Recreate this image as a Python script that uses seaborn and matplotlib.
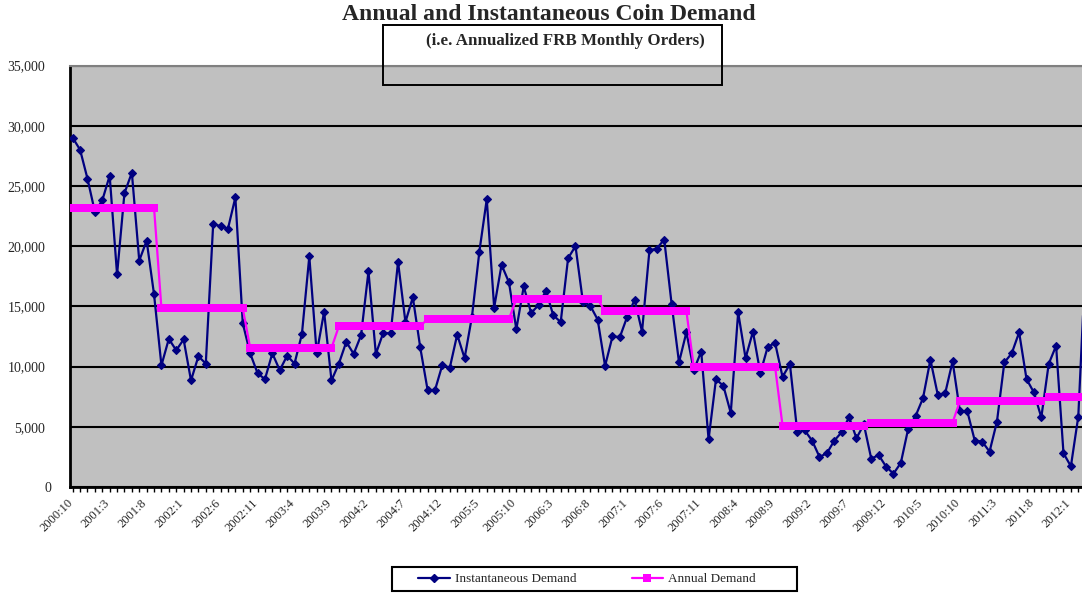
import numpy as np
import pandas as pd
import matplotlib
matplotlib.use("Agg")
import matplotlib.pyplot as plt
from matplotlib.patches import Rectangle
from matplotlib.lines import Line2D
from matplotlib.transforms import ScaledTranslation
from matplotlib.ticker import FuncFormatter, FixedLocator, MultipleLocator
import seaborn as sns

# Monthly FRB coin orders, annualized (Oct 2000 onward)
instantaneous = [
    29000, 28000, 25600, 22850, 23800, 25850, 17650, 24400, 26100, 18800, 20450, 16000,
    10100, 12300, 11350, 12250, 8850, 10850, 10250, 21850, 21650, 21450, 24050, 13600,
    11100, 9450, 8950, 11100, 9700, 10900, 10250, 12700, 19150, 11100, 14550, 8850,
    10250, 12050, 11050, 12600, 17900, 11050, 12800, 12750, 18700, 13700, 15750, 11600,
    8050, 8050, 10150, 9900, 12650, 10700, 14150, 19550, 23900, 14900, 18450, 17000,
    13100, 16650, 14450, 15100, 16300, 14250, 13700, 19000, 20000, 15400, 15050, 13900,
    10050, 12500, 12450, 14150, 15550, 12900, 19650, 19800, 20550, 15200, 10350, 12850,
    9700, 11250, 3950, 8950, 8400, 6150, 14500, 10700, 12900, 9450, 11650, 11950,
    9150, 10200, 4550, 4700, 3850, 2500, 2800, 3850, 4550, 5800, 4050, 5200,
    2350, 2650, 1700, 1100, 2000, 4850, 5900, 7380, 10570, 7650, 7790, 10430,
    6270, 6270, 3850, 3770, 2940, 5430, 10340, 11100, 12840, 8960, 7850, 5780,
    10220, 11730, 2800, 1720, 5850, 19000,
]

# Fiscal-year (Oct-Sep) annual demand levels
annual_levels = [23200, 14850, 11550, 13350, 13950, 15600, 14600, 9950, 5100, 5350, 7150, 7450]
months_per_level = 12

tick_labels = [
    "2000:10", "2001:3", "2001:8", "2002:1", "2002:6", "2002:11", "2003:4",
    "2003:9", "2004:2", "2004:7", "2004:12", "2005:5", "2005:10", "2006:3",
    "2006:8", "2007:1", "2007:6", "2007:11", "2008:4", "2008:9", "2009:2",
    "2009:7", "2009:12", "2010:5", "2010:10", "2011:3", "2011:8", "2012:1",
]
tick_step = 5

title = "Annual and Instantaneous Coin Demand"
subtitle = "(i.e. Annualized FRB Monthly Orders)"

sns.set_style("white")
plt.rcParams["font.family"] = ["Liberation Serif", "DejaVu Serif"]

n = len(instantaneous)
month = np.arange(n)
annual = np.repeat(annual_levels, months_per_level)[:n]
df = pd.DataFrame({"month": month,
                   "Instantaneous Demand": instantaneous,
                   "Annual Demand": annual})

W, H = 1082, 596
fig = plt.figure(figsize=(W / 100, H / 100), dpi=100)

# Plot area runs past the right edge of the canvas
x_lo, x_hi = -0.35, 139.0
px_per_month = 7.394
left_px = 72.7 + x_lo * px_per_month
width_px = (x_hi - x_lo) * px_per_month
top_px, bottom_px = 65.5, 487.0
ax = fig.add_axes([left_px / W, (H - bottom_px) / H, width_px / W, (bottom_px - top_px) / H])
ax.set_facecolor("#C0C0C0")

navy = "#000080"
magenta = "#FF00FF"

sns.lineplot(data=df, x="month", y="Instantaneous Demand", ax=ax, color=navy,
             lw=1.6, marker="D", markersize=4.3, markeredgecolor=navy,
             markeredgewidth=0.8, legend=False, zorder=3)
sns.lineplot(data=df, x="month", y="Annual Demand", ax=ax, color=magenta,
             lw=1.6, marker="s", markersize=6.3, markeredgewidth=0,
             legend=False, zorder=4)

ax.set_xlim(x_lo, x_hi)
ax.set_ylim(0, 35000)
ax.set_xlabel("")
ax.set_ylabel("")

ax.yaxis.set_major_locator(FixedLocator(np.arange(0, 35001, 5000)))
ax.yaxis.set_major_formatter(FuncFormatter(lambda v, p: f"{v:,.0f}"))
ax.yaxis.grid(True, color="black", lw=1.5)
ax.xaxis.grid(False)
ax.set_axisbelow(True)

ax.xaxis.set_major_locator(FixedLocator(np.arange(len(tick_labels)) * tick_step))
ax.xaxis.set_minor_locator(MultipleLocator(1))
ax.set_xticklabels(tick_labels, rotation=45, ha="right", rotation_mode="anchor")

ax.tick_params(axis="y", which="major", direction="out", length=4.5, width=1.4,
               color="black", labelsize=10, pad=13.5)
ax.tick_params(axis="x", which="both", direction="out", length=3.5, width=1.0,
               color="black", labelsize=9, pad=3.5, bottom=True)

# nudge the slanted month labels so their ends sit just left of each tick
shift = ScaledTranslation(-6 / 100, 0, fig.dpi_scale_trans)
for lbl in ax.get_xticklabels():
    lbl.set_transform(lbl.get_transform() + shift)

# the zero label sits a little further right than the others
fig.canvas.draw()
zero_lbl = ax.get_yticklabels()[0]
zero_lbl.set_transform(zero_lbl.get_transform()
                       + ScaledTranslation(6.5 / 100, 0, fig.dpi_scale_trans))

for side in ("left", "bottom"):
    ax.spines[side].set_color("black")
    ax.spines[side].set_linewidth(2.0)
ax.spines["top"].set_color("#808080")
ax.spines["top"].set_linewidth(1.5)
ax.spines["right"].set_visible(False)

fig.text(548.5 / W, 1 - 14.5 / H, title, ha="center", va="center",
         fontsize=17, fontweight="bold")
fig.text(565.5 / W, 1 - 41 / H, subtitle, ha="center", va="center",
         fontsize=12.2, fontweight="bold")
fig.add_artist(Rectangle((383 / W, 1 - 85 / H), 339 / W, 60 / H,
                         transform=fig.transFigure, fill=False,
                         edgecolor="black", lw=1.4, zorder=10))

handles = [
    Line2D([], [], color=navy, lw=1.6, marker="D", markersize=4.3,
           markeredgecolor=navy),
    Line2D([], [], color=magenta, lw=1.6, marker="s", markersize=6.3,
           markeredgewidth=0),
]
leg = fig.legend(handles, ["Instantaneous Demand", "Annual Demand"],
                 loc="center", bbox_to_anchor=(587 / W, 1 - 579 / H),
                 ncol=2, fontsize=9.5, frameon=False, handlelength=2.4,
                 columnspacing=4.2, borderpad=0, handletextpad=0.38,
                 borderaxespad=0)
fig.add_artist(Rectangle((392 / W, 1 - 591 / H), 405 / W, 24 / H,
                         transform=fig.transFigure, fill=False,
                         edgecolor="black", lw=1.5, zorder=10))

fig.savefig("out.png", dpi=100)
